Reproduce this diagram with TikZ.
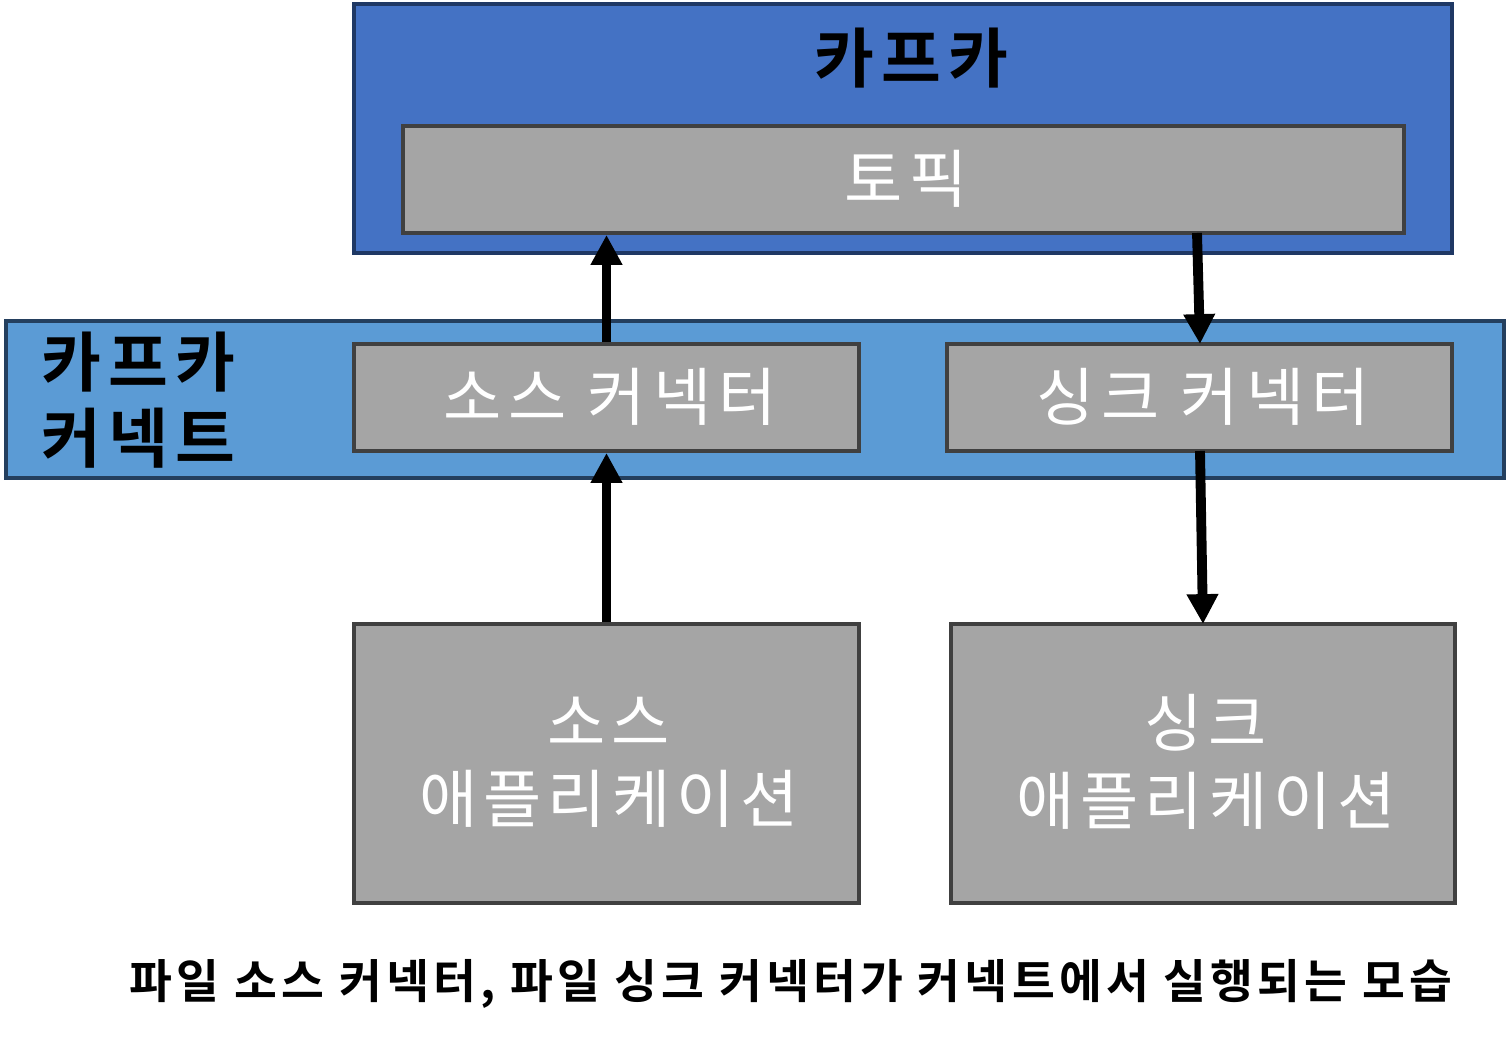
\documentclass[tikz,border=0pt]{standalone}
\usepackage{fontspec}
\setmainfont{Noto Sans CJK KR}
\newfontfamily\krb{Noto Sans CJK KR Bold}
\usetikzlibrary{arrows.meta}
\definecolor{kblue}{HTML}{4472C4}
\definecolor{cblue}{HTML}{5B9BD5}
\definecolor{navy}{HTML}{1F3864}
\definecolor{cnavy}{HTML}{243F5E}
\definecolor{boxgray}{HTML}{A5A5A5}
\definecolor{edgegray}{HTML}{404040}
\tikzset{
  graybox/.style={draw=edgegray, fill=boxgray, line width=2.2pt, inner sep=0pt},
  boxtext/.style={text=white, font=\fontsize{36pt}{44pt}\selectfont\addfontfeature{LetterSpace=10}, align=center},
  boldtext/.style={font=\krb\fontsize{37pt}{43.5pt}\selectfont\addfontfeature{LetterSpace=11}},
  arr/.style={line width=5.6pt, -{Triangle[width=17pt,length=17pt]}},
}
\begin{document}
\begin{tikzpicture}[x=0.02cm,y=-0.02cm]
\useasboundingbox (0,0) rectangle (1506,1040);
% Kafka
\node[draw=navy, fill=kblue, line width=2.8pt, minimum width=1098*0.02cm, minimum height=249*0.02cm, inner sep=0pt] (kafka) at (903,128.5) {};
\node[boldtext] (kafkat) at (911,58) {카프카};
\node[graybox, minimum width=1001*0.02cm, minimum height=107*0.02cm] (topic) at (903.5,179.5) {};
\node[boxtext] (topict) at (906,179) {토픽};
% Connect band
\node[draw=cnavy, fill=cblue, line width=2.8pt, minimum width=1498*0.02cm, minimum height=157*0.02cm, inner sep=0pt] (connect) at (755,399.5) {};
\node[boldtext, align=left, anchor=west] (connectt) at (35,400) {카프카\\커넥트};
\node[graybox, minimum width=505*0.02cm, minimum height=107*0.02cm] (srcc) at (606.5,397.5) {};
\node[boxtext, font=\fontsize{36pt}{44pt}\selectfont\addfontfeature{LetterSpace=11}] (srcct) at (610,397) {소스 커넥터};
\node[graybox, minimum width=505*0.02cm, minimum height=107*0.02cm] (sinkc) at (1199.5,397.5) {};
\node[boxtext, font=\fontsize{36pt}{44pt}\selectfont\addfontfeature{LetterSpace=11}] (sinkct) at (1203,397) {싱크 커넥터};
% Apps
\node[graybox, minimum width=505*0.02cm, minimum height=279*0.02cm] (srca) at (606.5,763.5) {};
\node[boxtext, font=\fontsize{36pt}{44pt}\selectfont\addfontfeature{LetterSpace=9.5}] (srcat) at (609,762) {소스\\애플리케이션};
\node[graybox, minimum width=504*0.02cm, minimum height=279*0.02cm] (sinka) at (1203,763.5) {};
\node[boxtext, font=\fontsize{36pt}{44pt}\selectfont\addfontfeature{LetterSpace=9.5}] (sinkat) at (1206,762) {싱크\\애플리케이션};
% Arrows
\draw[arr] (srca.north) -- (srcc.south);
\draw[arr] (srcc.north) -- (topic.south -| srcc.north);
\coordinate (tout) at (1197,233);
\coordinate (sinkin) at (1200,344);
\draw[arr] (tout) -- (sinkin);
\coordinate (sout) at (1200,451);
\coordinate (appin) at (1203,624);
\draw[arr] (sout) -- (appin);
% Caption
\node[font=\krb\fontsize{26.5pt}{32pt}\selectfont\addfontfeature{LetterSpace=9}] (cap) at (791,984) {파일 소스 커넥터, 파일 싱크 커넥터가 커넥트에서 실행되는 모습};
\end{tikzpicture}
\end{document}
